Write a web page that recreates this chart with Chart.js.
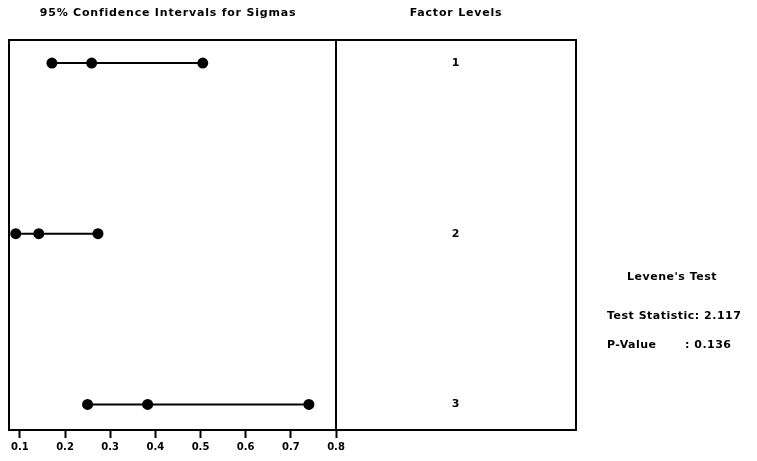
<!DOCTYPE html>
<html>
<head>
<meta charset="utf-8">
<script src="https://cdn.jsdelivr.net/npm/chart.js@4"></script>
<style>
  html, body { margin: 0; padding: 0; background: #fff; }
  #wrap { width: 757px; height: 461px; }
</style>
</head>
<body>
<div id="wrap"><canvas id="sigmaChart" width="757" height="461"></canvas></div>
<script>
// factor levels and the 95% intervals for sigma (lower, estimate, upper)
const levels = [1, 2, 3];
const lower = [0.171, 0.091, 0.250];
const sigma = [0.259, 0.142, 0.383];
const upper = [0.505, 0.273, 0.740];
const xTicks = [0.1, 0.2, 0.3, 0.4, 0.5, 0.6, 0.7, 0.8];

const statLabels = ['Test Statistic', 'P-Value'];
const statValues = ['2.117', '0.136'];

const FONT = 'bold 11px "DejaVu Sans", Arial, sans-serif';

// one line dataset per factor level
const datasets = levels.map((lv, i) => ({
    label: 'Level ' + lv,
    data: [
        { x: lower[i], y: lv },
        { x: sigma[i], y: lv },
        { x: upper[i], y: lv }
    ],
    showLine: true,
    borderColor: '#000',
    backgroundColor: '#000',
    borderWidth: 2,
    pointRadius: 4.5,
    pointHoverRadius: 4.5
}));

// boxes, headers, level numbers and Levene's test text
const panelPlugin = {
    id: 'panels',
    afterDraw(chart) {
        const ctx = chart.ctx;
        const a = chart.chartArea;
        const yScale = chart.scales.y;
        const rightEdge = 576;

        ctx.save();
        ctx.strokeStyle = '#000';
        ctx.lineWidth = 2;
        ctx.strokeRect(a.left, a.top, a.right - a.left, a.bottom - a.top);
        ctx.strokeRect(a.right, a.top, rightEdge - a.right, a.bottom - a.top);

        ctx.fillStyle = '#000';
        ctx.font = FONT;
        ctx.letterSpacing = '0.8px';
        ctx.textAlign = 'center';
        ctx.textBaseline = 'middle';
        ctx.fillText('95% Confidence Intervals for Sigmas', 168, 13);
        ctx.fillText('Factor Levels', (a.right + rightEdge) / 2, 13);

        const midRight = (a.right + rightEdge) / 2;
        levels.forEach(lv => {
            ctx.fillText(String(lv), midRight, yScale.getPixelForValue(lv));
        });

        ctx.letterSpacing = '0.5px';
        ctx.fillText("Levene's Test", 672, 277);
        ctx.textAlign = 'left';
        ctx.fillText(statLabels[0] + ': ' + statValues[0], 607, 316);
        ctx.fillText(statLabels[1], 607, 345);
        ctx.fillText(': ' + statValues[1], 685, 345);
        ctx.restore();
    }
};

const ctx = document.getElementById('sigmaChart').getContext('2d');
new Chart(ctx, {
    type: 'scatter',
    data: { datasets: datasets },
    options: {
        responsive: false,
        animation: false,
        layout: { padding: { left: 9, right: 421, top: 40, bottom: 0 } },
        plugins: {
            legend: { display: false },
            tooltip: { enabled: false }
        },
        scales: {
            x: {
                type: 'linear',
                min: 0.076,
                max: 0.8,
                afterBuildTicks: (scale) => {
                    scale.ticks = xTicks.map(v => ({ value: v }));
                },
                afterFit: (scale) => { scale.height = 31; },
                grid: {
                    drawOnChartArea: false,
                    drawTicks: true,
                    tickLength: 8,
                    tickWidth: 2,
                    tickColor: '#000'
                },
                border: { display: false },
                ticks: {
                    color: '#000',
                    padding: 3,
                    maxRotation: 0,
                    font: { family: '"DejaVu Sans", Arial, sans-serif', size: 10, weight: 'bold' },
                    callback: (v) => v.toFixed(1)
                }
            },
            y: {
                type: 'linear',
                display: false,
                reverse: true,
                min: 0.865,
                max: 3.15
            }
        }
    },
    plugins: [panelPlugin]
});
</script>
</body>
</html>
